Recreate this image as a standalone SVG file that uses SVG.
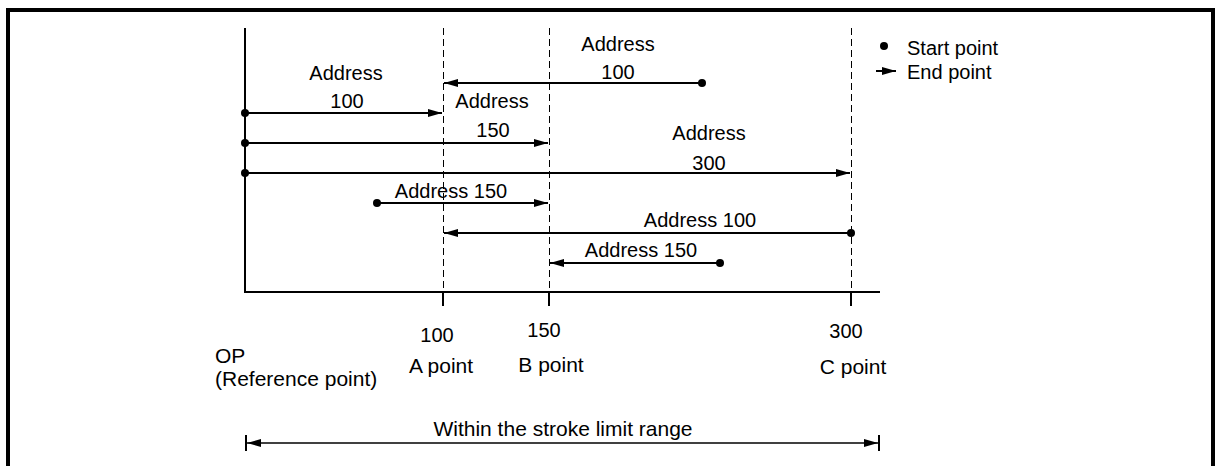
<svg xmlns="http://www.w3.org/2000/svg" width="1217" height="466" viewBox="0 0 1217 466">
<style>
text{font-family:"Liberation Sans",Arial,sans-serif;font-size:20px;fill:#000}
.m{text-anchor:middle}
.b{font-size:21px}
.ln{stroke:#000;stroke-width:2;fill:none}
.dash{stroke:#000;stroke-width:1;stroke-dasharray:7,4;fill:none}
.dot{fill:#000}
</style>
<defs>
<marker id="ah" viewBox="-14 -4 15 8" refX="0" refY="0" markerWidth="15" markerHeight="8" markerUnits="userSpaceOnUse" orient="auto">
<path d="M0,0 L-14,-4 L-14,4 Z" fill="#000"/>
</marker>
<marker id="ahs" viewBox="-14 -4 15 8" refX="0" refY="0" markerWidth="15" markerHeight="8" markerUnits="userSpaceOnUse" orient="auto-start-reverse">
<path d="M0,0 L-14,-4 L-14,4 Z" fill="#000"/>
</marker>
</defs>
<g id="frame"><path d="M8,466 V10 H1213 V466" fill="none" stroke="#000" stroke-width="4"/></g>
<g id="axes">
<line class="ln" x1="245" y1="28" x2="245" y2="292"/>
<line class="ln" x1="244" y1="292" x2="880" y2="292"/>
<line class="dash" x1="443.5" y1="28" x2="443.5" y2="292"/>
<line class="dash" x1="549.5" y1="28" x2="549.5" y2="292"/>
<line class="dash" x1="851.5" y1="28" x2="851.5" y2="292"/>
<line class="ln" x1="443" y1="292" x2="443" y2="306"/>
<line class="ln" x1="549" y1="292" x2="549" y2="306"/>
<line class="ln" x1="851" y1="292" x2="851" y2="306"/>
</g>
<g id="connectors">
<line class="ln" x1="702" y1="83" x2="444" y2="83" marker-end="url(#ah)"/>
<line class="ln" x1="245" y1="113" x2="442" y2="113" marker-end="url(#ah)"/>
<line class="ln" x1="245" y1="143" x2="548" y2="143" marker-end="url(#ah)"/>
<line class="ln" x1="245" y1="173" x2="850" y2="173" marker-end="url(#ah)"/>
<line class="ln" x1="377" y1="203" x2="548" y2="203" marker-end="url(#ah)"/>
<line class="ln" x1="851" y1="233" x2="444" y2="233" marker-end="url(#ah)"/>
<line class="ln" x1="720" y1="263" x2="550" y2="263" marker-end="url(#ah)"/>
<line stroke="#000" stroke-width="1.5" x1="247" y1="443" x2="878" y2="443" marker-start="url(#ahs)" marker-end="url(#ahs)"/>
<line class="ln" x1="246" y1="435" x2="246" y2="451"/>
<line class="ln" x1="879" y1="435" x2="879" y2="451"/>
</g>
<g id="dots">
<circle class="dot" cx="702" cy="83" r="4"/>
<circle class="dot" cx="245" cy="113" r="4"/>
<circle class="dot" cx="245" cy="143" r="4"/>
<circle class="dot" cx="245" cy="173" r="4"/>
<circle class="dot" cx="377" cy="203" r="4"/>
<circle class="dot" cx="851" cy="233" r="4"/>
<circle class="dot" cx="720" cy="263" r="4"/>
</g>
<g id="labels">
<text class="m" x="618" y="51">Address</text>
<text class="m" x="618" y="79">100</text>
<text class="m" x="346" y="80">Address</text>
<text class="m" x="347" y="108">100</text>
<text class="m" x="492" y="108">Address</text>
<text class="m" x="493" y="137">150</text>
<text class="m" x="709" y="140">Address</text>
<text class="m" x="709" y="170">300</text>
<text class="m" x="451" y="198">Address 150</text>
<text class="m" x="700" y="227">Address 100</text>
<text class="m" x="641" y="257">Address 150</text>
</g>
<g id="legend">
<circle class="dot" cx="884" cy="46" r="4"/>
<text x="907" y="55">Start point</text>
<line class="ln" x1="876" y1="71" x2="896" y2="71" marker-end="url(#ah)"/>
<text x="907" y="79">End point</text>
</g>
<g id="axis-labels">
<text class="m" x="437" y="342">100</text>
<text class="m" x="544" y="337">150</text>
<text class="m" x="846" y="338">300</text>
<text class="m b" x="441" y="373">A point</text>
<text class="m b" x="551" y="372">B point</text>
<text class="m b" x="853" y="374">C point</text>
<text class="b" x="215" y="363">OP</text>
<text class="b" x="215" y="386">(Reference point)</text>
<text class="m b" x="563" y="436">Within the stroke limit range</text>
</g>
</svg>
